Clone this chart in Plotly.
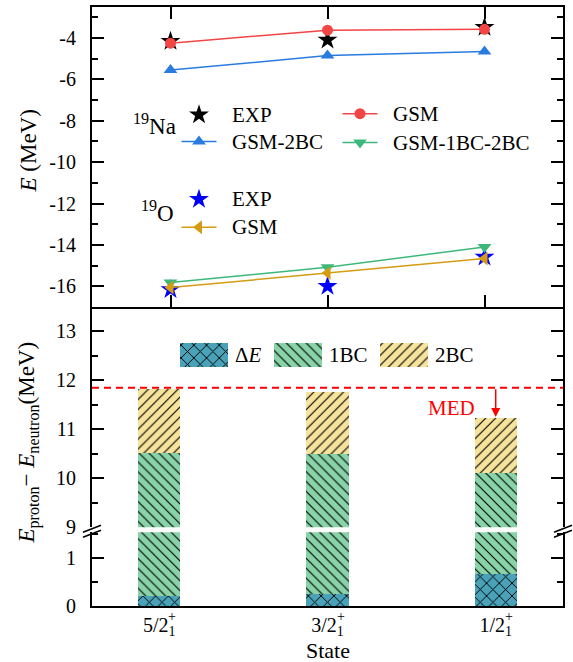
import plotly.graph_objects as go

# ---------------- data ----------------
states = ["5/2", "3/2", "1/2"]
state_ticktext = ["5/2<sub>1</sub>", "3/2<sub>1</sub>", "1/2<sub>1</sub>"]
state_idx = [0, 1, 2]

# 19Na
na_exp = [-4.15, -4.10, -3.48]
na_gsm = [-4.25, -3.62, -3.58]
na_gsm_2bc = [-5.55, -4.85, -4.65]
na_gsm_1bc_2bc = [-15.82, -15.08, -14.10]
# 19O
o_exp = [-16.15, -16.00, -14.58]
o_gsm = [-16.06, -15.36, -14.66]

# E_proton - E_neutron decomposition
delta_e = [0.21, 0.235, 0.65]
one_bc = [10.31, 10.265, 9.46]
two_bc = [1.30, 1.26, 1.12]
med_value = 11.85

top_yticks = [-16, -14, -12, -10, -8, -6, -4]
top_yticktext = ["-16", "-14", "-12", "-10", "-8", "-6", "-4"]
upper_yticks = [9, 10, 11, 12, 13]
lower_yticks = [0, 1]

# ---------------- style ----------------
FONT = "Liberation Serif, Times New Roman, serif"
C_RED = "#f24545"
C_BLUE = "#2a7be0"
C_GREEN = "#3db87a"
C_ORANGE = "#d39c12"
C_DE = "#4aa2b8"
C_1BC = "#88d4a8"
C_2BC = "#f6e39c"

W, H = 573, 662
PL, PR, PT, PB = 92, 563, 5, 606


def pxx(x):
    return (x - PL) / (PR - PL)


def pxy(y):
    return (PB - y) / (PB - PT)


fig = go.Figure()

# ---------------- top panel ----------------
fig.add_trace(go.Scatter(x=state_idx, y=na_exp, mode="markers",
                         marker=dict(symbol="star", size=15, color="black"),
                         xaxis="x", yaxis="y", showlegend=False))
fig.add_trace(go.Scatter(x=state_idx, y=o_exp, mode="markers",
                         marker=dict(symbol="star", size=15, color="#0000ff"),
                         xaxis="x", yaxis="y", showlegend=False))
for ys, col, sym, sz in [(na_gsm_2bc, C_BLUE, "triangle-up", 12),
                         (na_gsm_1bc_2bc, C_GREEN, "triangle-down", 12),
                         (o_gsm, C_ORANGE, "triangle-left", 12),
                         (na_gsm, C_RED, "circle", 11)]:
    fig.add_trace(go.Scatter(x=state_idx, y=ys, mode="lines+markers",
                             line=dict(color=col, width=1.5),
                             marker=dict(symbol=sym, size=sz, color=col),
                             xaxis="x", yaxis="y", showlegend=False))

# legend of the top panel (overlay axis in pixel units)
leg_items = [
    (199, 113, None, "star", "black", 15, "EXP"),
    (199, 140, C_BLUE, "triangle-up", C_BLUE, 12, "GSM-2BC"),
    (360, 112, C_RED, "circle", C_RED, 11, "GSM"),
    (360, 141, C_GREEN, "triangle-down", C_GREEN, 12, "GSM-1BC-2BC"),
    (199, 198, None, "star", "#0000ff", 15, "EXP"),
    (199, 226, C_ORANGE, "triangle-left", C_ORANGE, 12, "GSM"),
]
annotations = []
for cx, cy, lcol, sym, mcol, sz, label in leg_items:
    if lcol is not None:
        fig.add_trace(go.Scatter(x=[cx - 17.5, cx + 17.5], y=[cy, cy], mode="lines",
                                 line=dict(color=lcol, width=1.5),
                                 xaxis="x4", yaxis="y4", showlegend=False, hoverinfo="skip"))
    fig.add_trace(go.Scatter(x=[cx], y=[cy], mode="markers",
                             marker=dict(symbol=sym, size=sz, color=mcol),
                             xaxis="x4", yaxis="y4", showlegend=False, hoverinfo="skip"))
    annotations.append(dict(x=cx + 31, y=cy, xref="x4", yref="y4", text=label,
                            showarrow=False, xanchor="left", yanchor="middle",
                            font=dict(family=FONT, size=21)))
annotations.append(dict(x=178, y=123, xref="x4", yref="y4", text="<sup>19</sup>Na",
                        showarrow=False, xanchor="right", yanchor="middle",
                        font=dict(family=FONT, size=23)))
annotations.append(dict(x=176, y=210, xref="x4", yref="y4", text="<sup>19</sup>O",
                        showarrow=False, xanchor="right", yanchor="middle",
                        font=dict(family=FONT, size=23)))

# ---------------- bottom panel (broken axis) ----------------
def pat(shape, size, sol):
    return dict(shape=shape, fgcolor="black", size=size, solidity=sol,
                fillmode="overlay", fgopacity=1)


for xa, ya in [("x2", "y2"), ("x3", "y3")]:
    fig.add_trace(go.Bar(x=state_idx, y=delta_e, width=0.25, xaxis=xa, yaxis=ya,
                         marker=dict(color=C_DE, line=dict(width=0), pattern=pat("x", 9, 0.2)),
                         showlegend=False))
    fig.add_trace(go.Bar(x=state_idx, y=one_bc, width=0.25, xaxis=xa, yaxis=ya,
                         marker=dict(color=C_1BC, line=dict(width=0), pattern=pat("\\", 7, 0.16)),
                         showlegend=False))
    fig.add_trace(go.Bar(x=state_idx, y=two_bc, width=0.25, xaxis=xa, yaxis=ya,
                         marker=dict(color=C_2BC, line=dict(width=0), pattern=pat("/", 7, 0.16)),
                         showlegend=False))

# legend patches of bottom panel (overlay axis in pixel units)
for cx, col, shp, psz, sol, label in [(204, C_DE, "x", 9, 0.2, "Δ<i>E</i>"),
                                      (297.5, C_1BC, "\\", 7, 0.16, "1BC"),
                                      (403.5, C_2BC, "/", 7, 0.16, "2BC")]:
    fig.add_trace(go.Bar(x=[cx], y=[24], base=[342], width=48, xaxis="x5", yaxis="y5",
                         marker=dict(color=col, line=dict(width=0), pattern=pat(shp, psz, sol)),
                         showlegend=False, hoverinfo="skip"))
    annotations.append(dict(x=cx + 29, y=354, xref="x5", yref="y5", text=label,
                            showarrow=False, xanchor="left", yanchor="middle",
                            font=dict(family=FONT, size=21)))

# MED
totals = [a + b + c for a, b, c in zip(delta_e, one_bc, two_bc)]
annotations.append(dict(x=state_idx[2], y=totals[2], ax=state_idx[2], ay=med_value,
                        xref="x2", yref="y2", axref="x2", ayref="y2", text="",
                        showarrow=True, arrowhead=2, arrowsize=1.2, arrowwidth=1.5,
                        arrowcolor="#ff0000", standoff=1))
annotations.append(dict(x=state_idx[2], y=med_value, xref="x2", yref="y2", text="MED",
                        xshift=-44, yshift=-20, showarrow=False,
                        font=dict(family=FONT, size=21, color="#ff0000")))

# "+" superscripts of the state labels
for i in state_idx:
    annotations.append(dict(x=i, y=pxy(617), xref="x3", yref="paper", text="+",
                            xshift=13, showarrow=False, yanchor="middle",
                            font=dict(family=FONT, size=14)))

# axis titles
annotations.append(dict(x=pxx(29), y=pxy(150), xref="paper", yref="paper",
                        xanchor="center", yanchor="middle",
                        text="<i>E</i> (MeV)", textangle=-90, showarrow=False,
                        font=dict(family=FONT, size=23)))
annotations.append(dict(x=pxx(29), y=pxy(442), xref="paper", yref="paper",
                        xanchor="center", yanchor="middle",
                        text="<i>E</i><sub>proton</sub>− <i>E</i><sub>neutron</sub>(MeV)",
                        textangle=-90, showarrow=False, font=dict(family=FONT, size=23)))
annotations.append(dict(x=0.5, y=pxy(651), xref="paper", yref="paper",
                        text="State", showarrow=False, yanchor="middle",
                        font=dict(family=FONT, size=22)))

# shapes: MED line and axis-break marks
shapes = [dict(type="line", xref="x2 domain", yref="y2", x0=0, x1=1, y0=med_value,
               y1=med_value, line=dict(color="#ff0000", width=2, dash="7px,5px"))]
for bx in [92, 563]:
    for dy in [0, 5]:
        shapes.append(dict(type="line", xref="paper", yref="paper",
                           x0=pxx(bx - 9), y0=pxy(532 + dy), x1=pxx(bx + 9), y1=pxy(525 + dy),
                           line=dict(color="black", width=1.5)))

axis_common = dict(showgrid=False, zeroline=False, linecolor="black", linewidth=2,
                   tickcolor="black", tickwidth=2, ticks="inside", ticklen=12,
                   tickfont=dict(family=FONT, size=20, color="black"))
top_domain = [pxy(306), 1]
upper_domain = [pxy(527), pxy(306)]
lower_domain = [0, pxy(532)]

fig.update_layout(
    width=W, height=H,
    margin=dict(l=PL, r=W - PR, t=PT, b=H - PB),
    paper_bgcolor="white", plot_bgcolor="white",
    font=dict(family=FONT, color="black"),
    barmode="stack", bargap=0,
    showlegend=False,
    annotations=annotations, shapes=shapes,
    xaxis=dict(axis_common, domain=[0, 1], anchor="y", range=[-0.5, 2.5],
               tickmode="array", tickvals=state_idx, showticklabels=False,
               showline=True, mirror="ticks"),
    yaxis=dict(axis_common, domain=top_domain, anchor="x", range=[-17, -2.5],
               tickmode="array", tickvals=top_yticks, ticktext=top_yticktext,
               showline=True, mirror="ticks", ticklabelstandoff=10,
               minor=dict(ticks="inside", ticklen=6, tickwidth=2, tickcolor="black",
                          tick0=0, dtick=1)),
    xaxis2=dict(axis_common, domain=[0, 1], anchor="y2", range=[-0.4, 2.4],
                showline=False, ticks="", showticklabels=False),
    yaxis2=dict(axis_common, domain=upper_domain, anchor="x2", range=[9, 13.5],
                tickmode="array", tickvals=upper_yticks, showline=True, mirror="ticks",
                ticklabelstandoff=10,
                minor=dict(ticks="inside", ticklen=6, tickwidth=2, tickcolor="black",
                           tick0=0, dtick=0.5)),
    xaxis3=dict(axis_common, domain=[0, 1], anchor="y3", range=[-0.4, 2.4],
                showline=True, ticks="", tickmode="array", tickvals=state_idx,
                ticktext=state_ticktext, ticklabelstandoff=0),
    yaxis3=dict(axis_common, domain=lower_domain, anchor="x3", range=[0, 1.526],
                tickmode="array", tickvals=lower_yticks, showline=True, mirror="ticks",
                ticklabelstandoff=10,
                minor=dict(ticks="inside", ticklen=6, tickwidth=2, tickcolor="black",
                           tick0=0, dtick=0.5)),
    xaxis4=dict(overlaying="x", range=[PL, PR], visible=False),
    yaxis4=dict(overlaying="y", anchor="x4", range=[306, PT], visible=False),
    xaxis5=dict(overlaying="x2", range=[PL, PR], visible=False),
    yaxis5=dict(overlaying="y2", anchor="x5", range=[527, 306], visible=False),
)

fig.write_html("out.html")
